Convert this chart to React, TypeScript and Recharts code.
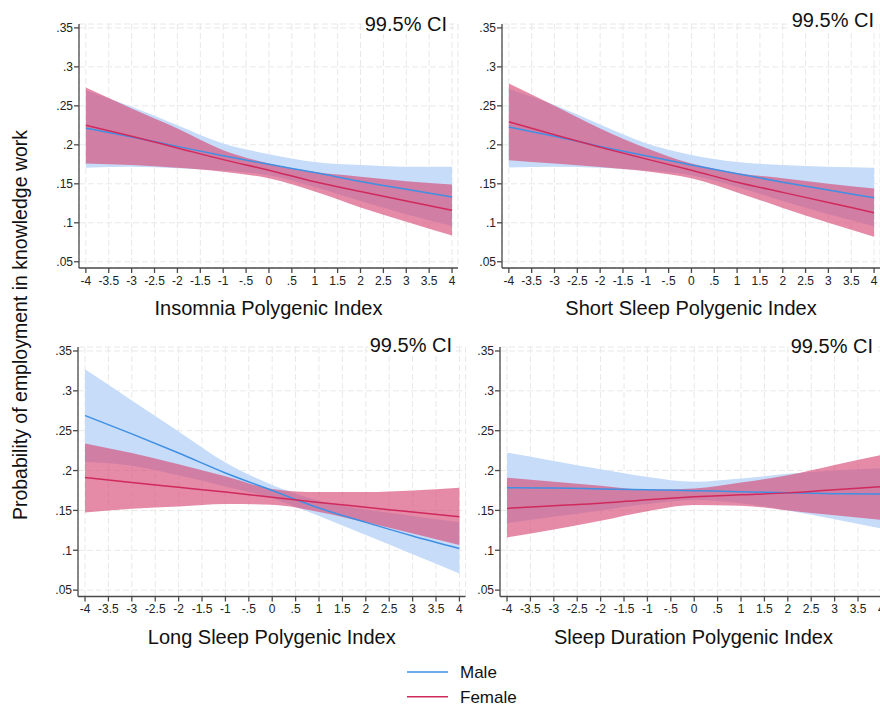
import React from 'react';
import { ComposedChart, Area, Line, XAxis, YAxis, CartesianGrid } from 'recharts';

// polygenic index values where the curves were read
const xValues = [-4, -3, -2, -1, 0, 1, 2, 3, 4];
const xTicks = [-4, -3.5, -3, -2.5, -2, -1.5, -1, -0.5, 0, 0.5, 1, 1.5, 2, 2.5, 3, 3.5, 4];
const yTicks = [0.05, 0.1, 0.15, 0.2, 0.25, 0.3, 0.35];

// Insomnia
const insomniaMale = [0.2214, 0.21, 0.198, 0.186, 0.175, 0.1645, 0.153, 0.143, 0.133];
const insomniaMaleLo = [0.1705, 0.172, 0.17, 0.1667, 0.161, 0.146, 0.128, 0.111, 0.096];
const insomniaMaleHi = [0.27, 0.2487, 0.2252, 0.2017, 0.188, 0.178, 0.174, 0.172, 0.172];
const insomniaFemale = [0.225, 0.211, 0.196, 0.181, 0.1675, 0.1526, 0.14, 0.128, 0.116];
const insomniaFemaleLo = [0.176, 0.174, 0.1705, 0.1654, 0.157, 0.14, 0.1197, 0.1013, 0.0838];
const insomniaFemaleHi = [0.2735, 0.2466, 0.221, 0.1932, 0.176, 0.165, 0.159, 0.1534, 0.149];

// Short sleep
const shortMale = [0.223, 0.211, 0.198, 0.186, 0.174, 0.163, 0.152, 0.142, 0.132];
const shortMaleLo = [0.171, 0.172, 0.1705, 0.167, 0.161, 0.146, 0.128, 0.111, 0.0957];
const shortMaleHi = [0.272, 0.251, 0.226, 0.202, 0.187, 0.178, 0.174, 0.172, 0.1705];
const shortFemale = [0.2295, 0.213, 0.197, 0.182, 0.1675, 0.152, 0.139, 0.126, 0.113];
const shortFemaleLo = [0.1803, 0.176, 0.1715, 0.166, 0.157, 0.139, 0.119, 0.1, 0.082];
const shortFemaleHi = [0.2786, 0.25, 0.221, 0.196, 0.176, 0.164, 0.157, 0.15, 0.144];

// Long sleep
const longMale = [0.269, 0.246, 0.222, 0.197, 0.175, 0.153, 0.135, 0.118, 0.1023];
const longMaleLo = [0.211, 0.206, 0.194, 0.18, 0.165, 0.143, 0.119, 0.095, 0.071];
const longMaleHi = [0.327, 0.288, 0.249, 0.21, 0.182, 0.162, 0.151, 0.143, 0.135];
const longFemale = [0.1914, 0.185, 0.179, 0.173, 0.1665, 0.16, 0.154, 0.148, 0.142];
const longFemaleLo = [0.1475, 0.152, 0.155, 0.158, 0.157, 0.148, 0.135, 0.121, 0.1065];
const longFemaleHi = [0.234, 0.222, 0.208, 0.193, 0.177, 0.173, 0.173, 0.175, 0.1785];

// Sleep duration
const durMale = [0.1785, 0.178, 0.177, 0.176, 0.1747, 0.1735, 0.172, 0.171, 0.1705];
const durMaleLo = [0.134, 0.142, 0.15, 0.158, 0.163, 0.159, 0.15, 0.139, 0.1274];
const durMaleHi = [0.2224, 0.212, 0.2015, 0.192, 0.186, 0.19, 0.196, 0.2, 0.203];
const durFemale = [0.1525, 0.156, 0.159, 0.1635, 0.167, 0.1695, 0.172, 0.176, 0.1797];
const durFemaleLo = [0.116, 0.126, 0.137, 0.149, 0.1567, 0.156, 0.15, 0.144, 0.138];
const durFemaleHi = [0.191, 0.186, 0.181, 0.176, 0.1776, 0.185, 0.194, 0.207, 0.2195];

const FONT = '"Liberation Sans", Arial, sans-serif';
const MALE = '#3f8fe3';
const FEMALE = '#d02a5c';
const MALE_BAND = '#c6dcf9';
const FEMALE_BAND = '#d74b78';
const X_DOMAIN = [-4.15, 4.13];
const Y_DOMAIN = [0.042, 0.355];

const fmt = (v: number) => String(v).replace('0.', '.');

function buildRows(m: number[], mLo: number[], mHi: number[], f: number[], fLo: number[], fHi: number[]) {
  return xValues.map((x, i) => ({
    x,
    male: m[i],
    maleBand: [mLo[i], mHi[i]],
    female: f[i],
    femaleBand: [fLo[i], fHi[i]],
  }));
}

const panels = [
  {
    rows: buildRows(insomniaMale, insomniaMaleLo, insomniaMaleHi, insomniaFemale, insomniaFemaleLo, insomniaFemaleHi),
    plot: { x: 79, y: 24, w: 379, h: 244 },
    title: 'Insomnia Polygenic Index',
    ci: { right: 449, top: 14.4 },
  },
  {
    rows: buildRows(shortMale, shortMaleLo, shortMaleHi, shortFemale, shortFemaleLo, shortFemaleHi),
    plot: { x: 502, y: 24, w: 378, h: 244 },
    title: 'Short Sleep Polygenic Index',
    ci: { right: 876, top: 10.4 },
  },
  {
    rows: buildRows(longMale, longMaleLo, longMaleHi, longFemale, longFemaleLo, longFemaleHi),
    plot: { x: 78, y: 347, w: 387.5, h: 249.5 },
    title: 'Long Sleep Polygenic Index',
    ci: { right: 454, top: 335 },
  },
  {
    rows: buildRows(durMale, durMaleLo, durMaleHi, durFemale, durFemaleLo, durFemaleHi),
    plot: { x: 499.7, y: 347, w: 387.5, h: 249.5 },
    title: 'Sleep Duration Polygenic Index',
    ci: { right: 875, top: 335.5 },
  },
];

const axisLine = { stroke: '#4a4a4a', strokeWidth: 1.3 };
const tickStyle = { fill: '#222', fontSize: 12, fontFamily: FONT };

function Panel({ p }: { p: (typeof panels)[number] }) {
  const padL = 60;
  const padT = 10;
  const padR = 10;
  const padB = 30;
  const width = p.plot.w + padL + padR;
  const height = p.plot.h + padT + padB;
  return (
    <>
      <div style={{ position: 'absolute', left: p.plot.x - padL, top: p.plot.y - padT, width, height }}>
        <ComposedChart width={width} height={height} data={p.rows} margin={{ top: padT, right: padR, bottom: 0, left: 0 }}>
          <CartesianGrid strokeDasharray="6 3" stroke="#e8e8e8" />
          <XAxis
            type="number"
            dataKey="x"
            domain={X_DOMAIN}
            ticks={xTicks}
            interval={0}
            allowDataOverflow
            tickFormatter={fmt}
            height={padB}
            tickSize={5}
            tickMargin={3}
            axisLine={axisLine}
            tickLine={axisLine}
            tick={tickStyle}
          />
          <YAxis
            type="number"
            domain={Y_DOMAIN}
            ticks={yTicks}
            interval={0}
            allowDataOverflow
            tickFormatter={fmt}
            width={padL}
            tickSize={5}
            tickMargin={1}
            axisLine={axisLine}
            tickLine={axisLine}
            tick={tickStyle}
          />
          <Area type="monotone" dataKey="maleBand" stroke="none" fill={MALE_BAND} fillOpacity={1} isAnimationActive={false} />
          <Area type="monotone" dataKey="femaleBand" stroke="none" fill={FEMALE_BAND} fillOpacity={0.65} isAnimationActive={false} />
          <Line type="monotone" dataKey="male" stroke={MALE} strokeWidth={1.5} dot={false} activeDot={false} isAnimationActive={false} />
          <Line type="monotone" dataKey="female" stroke={FEMALE} strokeWidth={1.5} dot={false} activeDot={false} isAnimationActive={false} />
        </ComposedChart>
      </div>
      <div
        style={{
          position: 'absolute',
          right: 880 - p.ci.right,
          top: p.ci.top,
          fontSize: 20,
          lineHeight: '20px',
          fontFamily: FONT,
          color: '#111',
          background: '#fff',
          padding: '0 2px',
          whiteSpace: 'nowrap',
        }}
      >
        99.5% CI
      </div>
      <div
        style={{
          position: 'absolute',
          left: p.plot.x + p.plot.w / 2 - 200,
          width: 400,
          top: p.plot.y + p.plot.h + 30,
          textAlign: 'center',
          fontSize: 20,
          lineHeight: '20px',
          fontFamily: FONT,
          color: '#111',
        }}
      >
        {p.title}
      </div>
    </>
  );
}

export default function App() {
  return (
    <div style={{ position: 'absolute', left: 0, top: 0, width: 880, height: 706, overflow: 'hidden', background: '#fff' }}>
      {panels.map((p) => (
        <Panel key={p.title} p={p} />
      ))}
      <div
        style={{
          position: 'absolute',
          left: 20 - 250,
          top: 325 - 12,
          width: 500,
          height: 24,
          lineHeight: '24px',
          textAlign: 'center',
          transform: 'rotate(-90deg)',
          fontSize: 19.5,
          fontFamily: FONT,
          color: '#111',
        }}
      >
        Probability of employment in knowledge work
      </div>
      <svg style={{ position: 'absolute', left: 400, top: 655 }} width={160} height={51}>
        <line x1={7} x2={48} y1={17} y2={17} stroke={MALE} strokeWidth={1.5} />
        <text x={60} y={23} fontSize={17} fontFamily={FONT} fill="#111">Male</text>
        <line x1={7} x2={48} y1={41.7} y2={41.7} stroke={FEMALE} strokeWidth={1.5} />
        <text x={60} y={47.7} fontSize={17} fontFamily={FONT} fill="#111">Female</text>
      </svg>
    </div>
  );
}
